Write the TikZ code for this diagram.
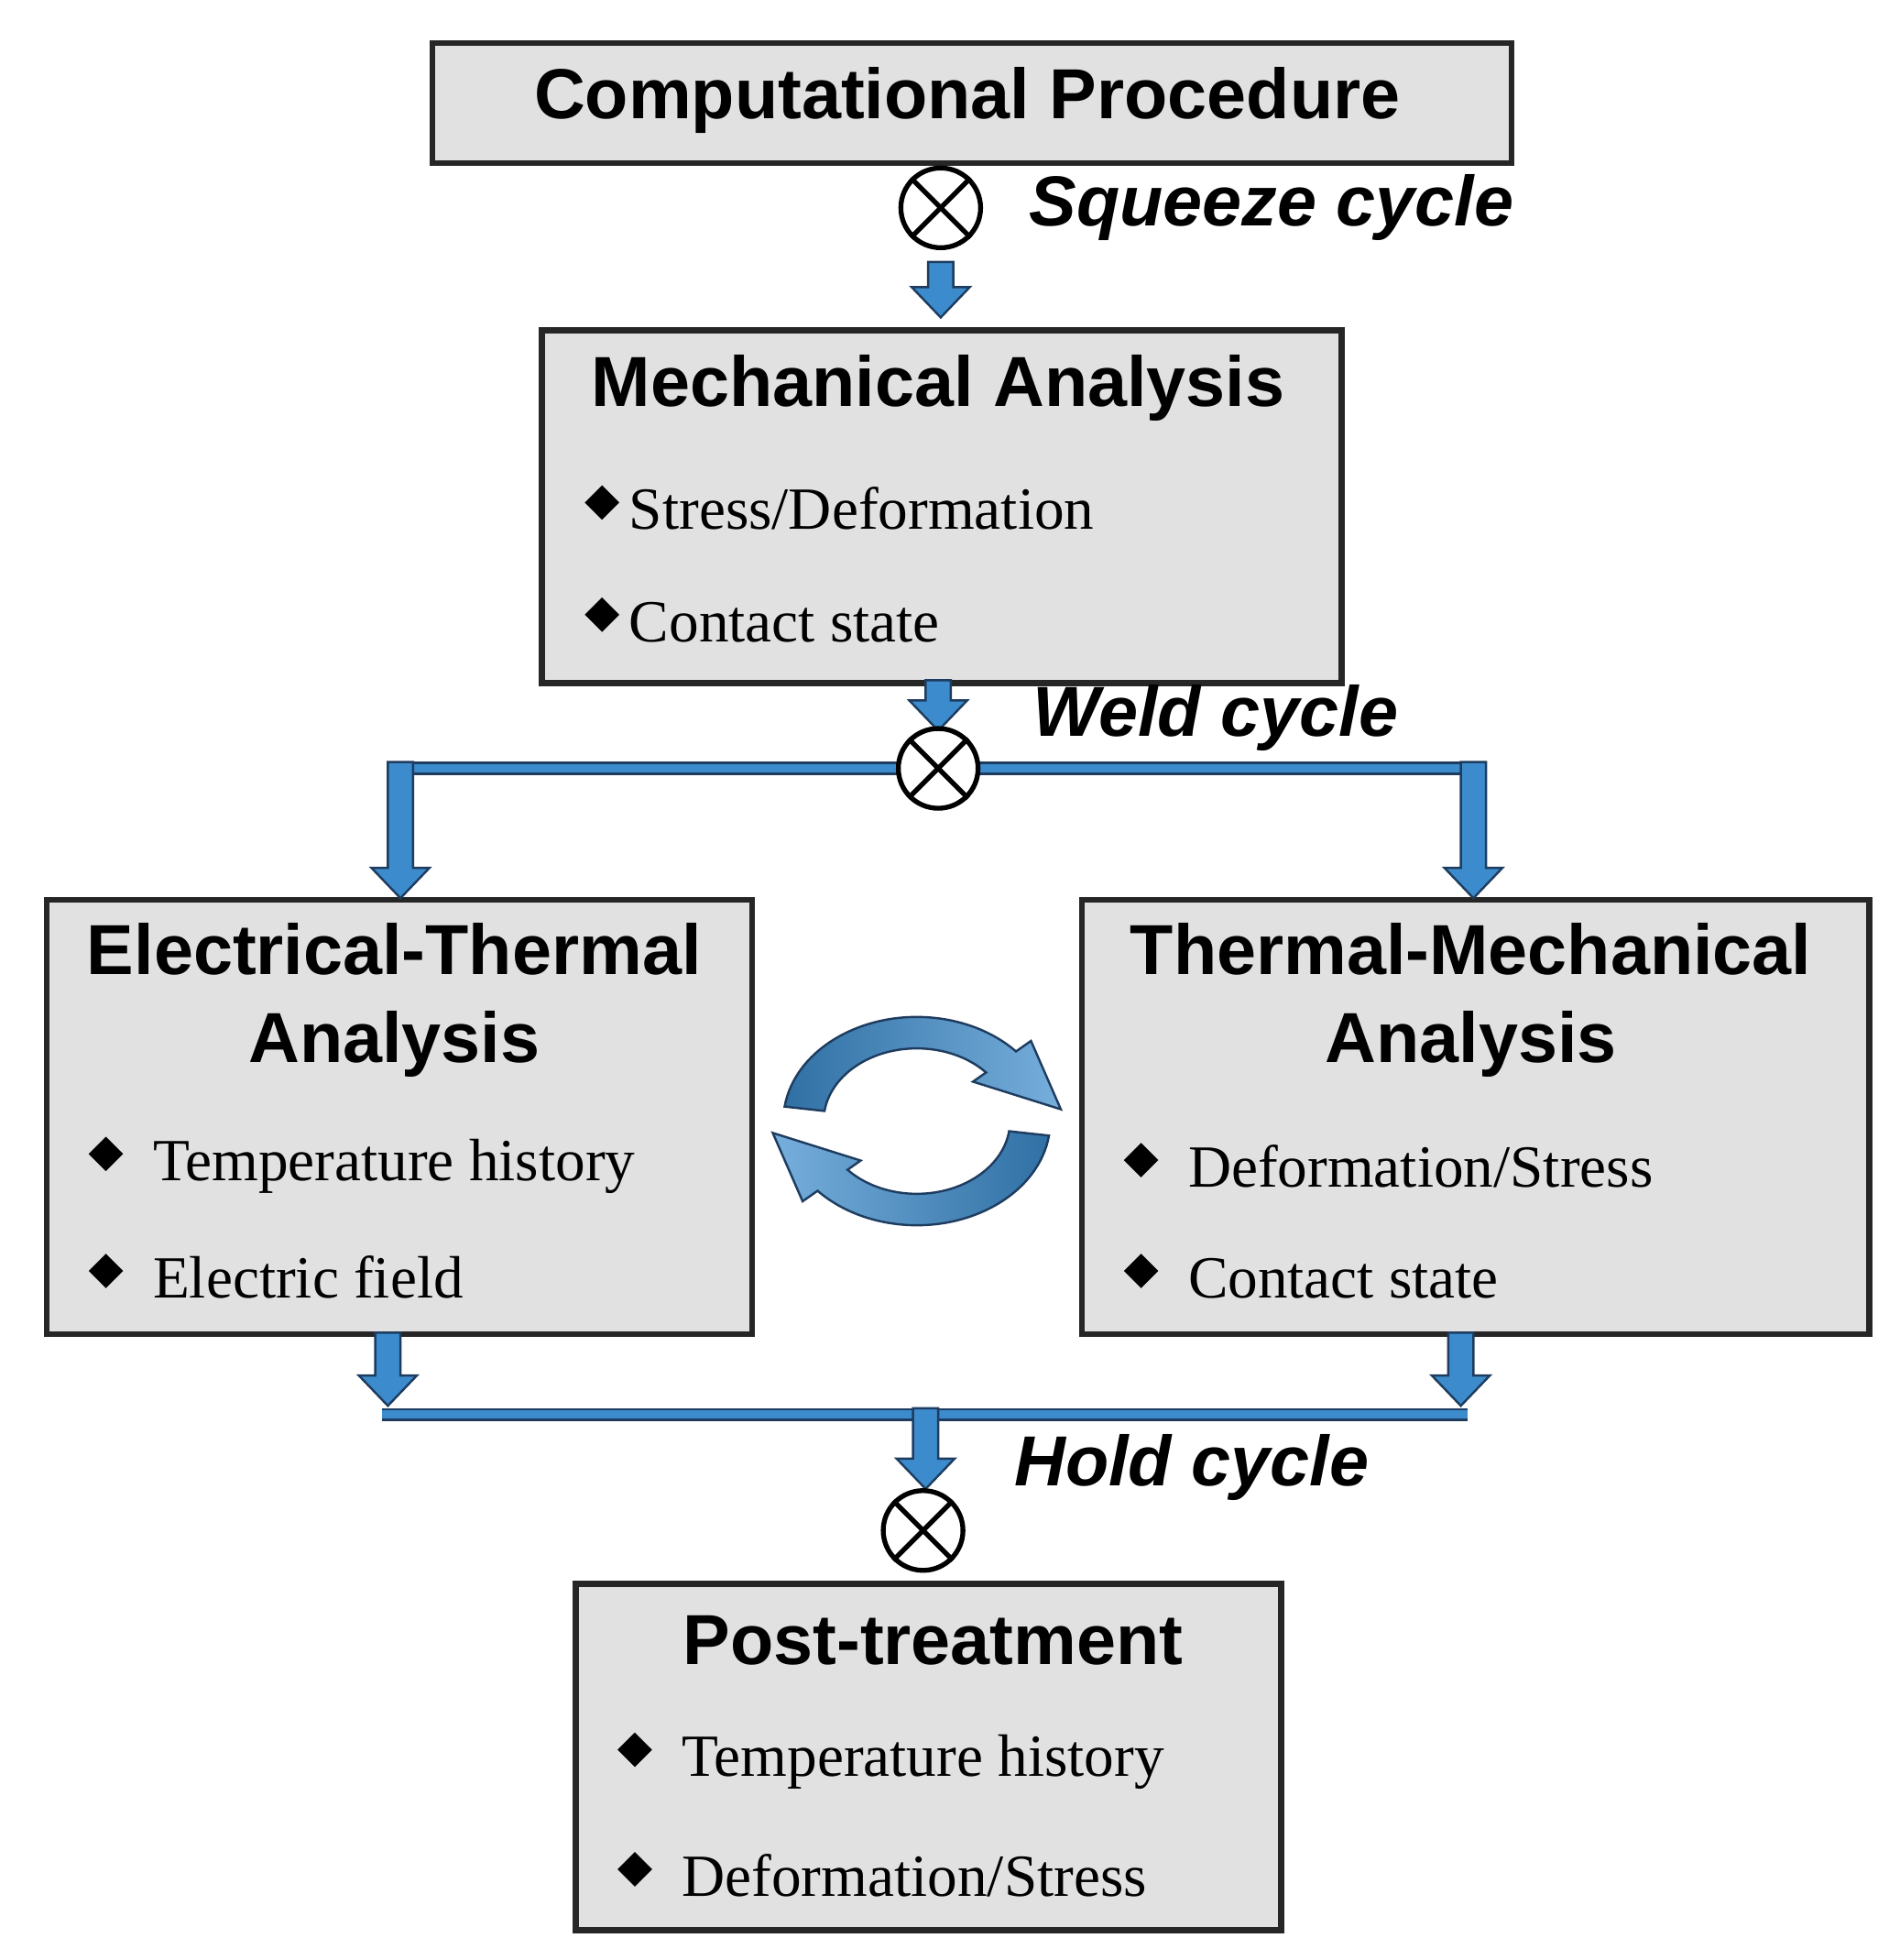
\documentclass[tikz,border=0pt]{standalone}
\usepackage{fontspec}
\setmainfont{Liberation Serif}
\newfontfamily\hd{Liberation Sans}
\usetikzlibrary{calc}
\definecolor{bx}{RGB}{225,225,225}
\definecolor{ab}{RGB}{60,140,205}
\definecolor{ad}{RGB}{30,60,95}
\newcommand{\dia}{\raisebox{0.35ex}{\rotatebox{45}{\rule{5.5pt}{5.5pt}}}}
\tikzset{
 box/.style={draw=black!85,line width=1.3pt,fill=bx,anchor=north west,inner sep=0},
 ttl/.style={font=\hd\bfseries\fontsize{16}{19}\selectfont},
 itm/.style={font=\fontsize{13.5}{16}\selectfont,anchor=west},
 cyc/.style={font=\hd\bfseries\itshape\fontsize{16}{19}\selectfont,anchor=west},
 ot/.style={circle,draw=black,line width=1.1pt,fill=white,minimum size=18pt,inner sep=0},
 arr/.style={fill=ab,draw=ad,line width=0.5pt},
 band/.style={draw=ad,line width=0.6pt,double=ab,double distance=1.8pt}
}
\newcommand{\dnarrow}[3]{\path[arr] ({#1-10},#2) -- ({#1+10},#2) -- ({#1+10},{#3-24}) -- ({#1+23},{#3-24}) -- (#1,#3) -- ({#1-23},{#3-24}) -- ({#1-10},{#3-24}) -- cycle;}
\newcommand{\otm}[2]{\node[ot] (#1) at #2 {};
 \draw[line width=1.1pt] (#1.45) -- (#1.225) (#1.135) -- (#1.315);}
\begin{document}
\begin{tikzpicture}[x=0.01cm,y=-0.01cm]
\useasboundingbox (0,0) rectangle (1500,1556);
% boxes
\node[box,minimum width=857*0.01cm,minimum height=95*0.01cm] (tit) at (341,32) {};
\node[ttl] at (768,80) {Computational Procedure};
\node[box,minimum width=635*0.01cm,minimum height=280*0.01cm] (mech) at (428,260) {};
\node[ttl] at (745,308) {Mechanical Analysis};
\node[itm] at (452,403) {\dia\,Stress/Deformation};
\node[itm] at (452,492) {\dia\,Contact state};
\node[box,minimum width=560*0.01cm,minimum height=345*0.01cm] (et) at (35,712) {};
\node[ttl,align=center] at (313,794) {Electrical-Thermal\\[1pt]Analysis};
\node[itm] at (58,925) {\dia~~Temperature history};
\node[itm] at (58,1013) {\dia~~Electric field};
\node[box,minimum width=625*0.01cm,minimum height=345*0.01cm] (tm) at (857,712) {};
\node[ttl,align=center] at (1168,794) {Thermal-Mechanical\\[1pt]Analysis};
\node[itm] at (880,925) {\dia~~Deformation/Stress};
\node[itm] at (880,1013) {\dia~~Contact state};
\node[box,minimum width=560*0.01cm,minimum height=275*0.01cm] (pt) at (455,1255) {};
\node[ttl] at (741,1302) {Post-treatment};
\node[itm] at (478,1398) {\dia~~Temperature history};
\node[itm] at (478,1488) {\dia~~Deformation/Stress};
% squeeze
\otm{o1}{(747,165)}
\node[cyc] at (805,165) {Squeeze cycle};
\dnarrow{747}{208}{252}
% weld
\dnarrow{745}{540}{580}
\draw[band] (318,610) -- (1170,610);
\otm{o2}{(745,610)}
\node[cyc] at (808,570) {Weld cycle};
\dnarrow{318}{605}{713}
\dnarrow{1170}{605}{713}
% hold
\dnarrow{308}{1058}{1116}
\dnarrow{1160}{1058}{1116}
\draw[band] (303,1123) -- (1165,1123);
\dnarrow{735}{1118}{1182}
\otm{o3}{(733,1215)}
\node[cyc] at (793,1165) {Hold cycle};
% circular arrows
\coordinate (c) at (728,890);
\path[draw=ad,line width=0.5pt,left color=ab!80!black,right color=ab!70!white,yscale=0.78]
 ($(c)+(-172:106)$) arc[start angle=-172,end angle=-42,radius=106]
 -- ($(c)+(-42:122)$) -- ($(c)+(-6:115)$) -- ($(c)+(-42:60)$) -- ($(c)+(-42:74)$)
 arc[start angle=-42,end angle=-172,radius=74] -- cycle;
\path[draw=ad,line width=0.5pt,left color=ab!70!white,right color=ab!80!black,yscale=0.78]
 ($(c)+(8:106)$) arc[start angle=8,end angle=138,radius=106]
 -- ($(c)+(138:122)$) -- ($(c)+(174:115)$) -- ($(c)+(138:60)$) -- ($(c)+(138:74)$)
 arc[start angle=138,end angle=8,radius=74] -- cycle;
\end{tikzpicture}
\end{document}
